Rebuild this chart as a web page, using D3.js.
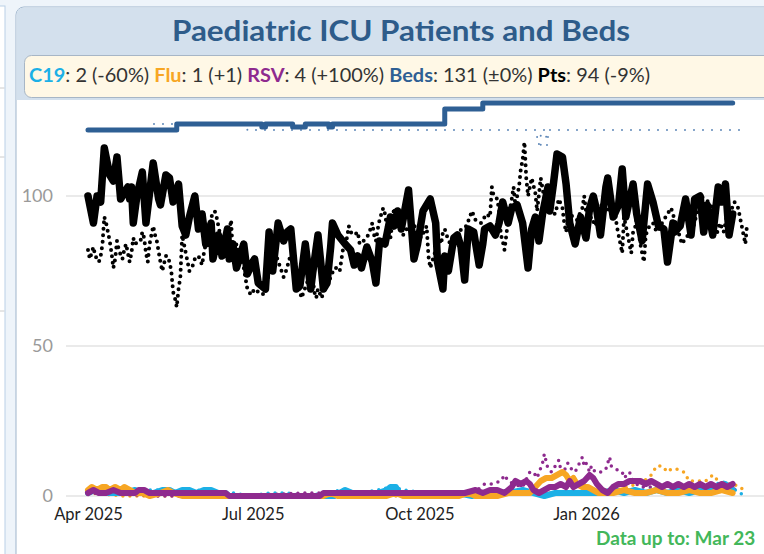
<!DOCTYPE html>
<html>
<head>
<meta charset="utf-8">
<script src="https://cdn.jsdelivr.net/npm/d3@7"></script>
<style>
body { margin: 0; background: #ffffff; }
svg { display: block; font-family: Lato, "Open Sans", sans-serif; }
</style>
</head>
<body>
<div id="chart"></div>
<script>
// sizes
const width = 764, height = 554;
const startDate = new Date(2025, 3, 1);

// series: [days since 1 Apr 2025, value]
const patients = [[0,100],[3,91],[5,100],[7,98],[9,116],[12,107],[14,105],[16,113],[18,99],[20,101],[22,103],[23,99],[24,103],[25,91],[27,100],[30,108],[32,91],[34,101],[36,111],[39,99],[40,97],[43,107],[45,106],[47,98],[50,104],[52,90],[54,87],[56,93],[59,100],[61,89],[63,94],[65,84],[66,87],[68,91],[69,79],[72,87],[74,80],[77,89],[78,79],[80,84],[82,76],[86,84],[88,74],[91,78],[92,79],[94,71],[98,69],[100,88],[102,75],[105,91],[108,85],[110,88],[112,89],[115,69],[117,70],[120,84],[123,69],[124,74],[127,87],[130,69],[132,71],[134,83],[135,91],[138,87],[142,84],[145,82],[147,77],[149,80],[151,76],[154,83],[157,78],[159,71],[161,85],[164,84],[167,93],[169,90],[171,95],[173,89],[177,102],[180,79],[182,84],[185,95],[189,99],[192,91],[193,78],[196,69],[197,80],[199,75],[202,86],[204,87],[206,83],[208,72],[210,89],[213,88],[216,77],[218,84],[219,89],[222,90],[225,87],[227,91],[229,98],[232,91],[234,96],[237,97],[240,91],[243,76],[245,89],[247,93],[249,85],[251,94],[254,103],[255,95],[257,104],[259,114],[262,113],[264,104],[266,91],[269,84],[272,93],[275,86],[277,96],[279,100],[281,95],[283,87],[286,103],[287,106],[290,93],[293,97],[295,109],[297,93],[301,104],[303,94],[306,85],[309,104],[312,98],[315,90],[318,89],[320,78],[323,91],[324,88],[327,90],[330,99],[333,87],[335,99],[338,100],[340,88],[342,97],[345,87],[348,103],[350,98],[352,104],[354,87],[356,94]];
const patientsLastYear = [[0,82],[1,79],[3,83],[4,80],[6,78],[7,80],[8,84],[9,93],[10,91],[11,88],[12,85],[13,81],[14,76],[15,79],[16,85],[17,82],[19,79],[20,82],[21,84],[23,78],[24,81],[25,86],[26,84],[28,85],[29,85],[30,88],[31,86],[32,81],[33,78],[34,84],[35,87],[36,90],[37,87],[38,85],[40,78],[41,75],[43,80],[44,80],[45,78],[46,75],[47,68],[48,66],[49,63],[50,69],[51,73],[52,87],[53,84],[55,78],[56,75],[58,77],[59,79],[61,80],[63,77],[64,81],[65,84],[67,88],[68,93],[70,95],[71,93],[72,90],[74,84],[75,80],[77,84],[79,92],[80,80],[82,84],[86,76],[88,69],[90,67],[92,69],[94,68],[96,68],[97,67],[98,71],[101,75],[102,78],[104,80],[108,73],[110,76],[111,79],[114,80],[115,75],[116,70],[118,66],[119,68],[121,71],[122,76],[123,78],[125,68],[126,66],[127,69],[129,66],[130,68],[132,70],[134,73],[136,76],[138,76],[139,75],[140,79],[141,83],[143,86],[144,90],[145,88],[147,87],[149,88],[150,84],[152,85],[154,86],[156,89],[157,91],[158,87],[159,85],[160,89],[161,92],[163,96],[164,94],[165,90],[167,86],[169,96],[170,93],[174,87],[176,89],[180,91],[181,88],[184,86],[187,90],[188,80],[189,76],[191,80],[194,86],[195,84],[196,88],[197,89],[198,87],[200,84],[203,83],[206,89],[209,90],[212,95],[214,92],[217,91],[220,94],[222,93],[223,103],[224,100],[226,99],[227,95],[228,87],[229,85],[230,82],[232,92],[234,99],[235,103],[236,97],[238,103],[239,109],[240,112],[241,118],[242,106],[243,100],[244,103],[245,106],[247,101],[248,95],[250,106],[252,99],[255,95],[258,94],[260,99],[262,96],[263,91],[264,88],[265,92],[266,94],[270,92],[273,96],[274,100],[275,95],[276,91],[278,93],[280,90],[282,93],[284,98],[288,95],[291,95],[292,90],[293,87],[294,84],[295,81],[296,93],[297,90],[298,87],[299,84],[300,81],[301,88],[302,89],[303,93],[305,84],[306,81],[307,78],[308,87],[310,90],[312,91],[314,88],[318,92],[322,96],[323,94],[326,88],[328,84],[330,86],[333,88],[335,91],[338,100],[341,99],[344,97],[346,94],[347,87],[349,91],[351,88],[353,94],[355,95],[357,98],[359,96],[360,93],[361,90],[362,87],[363,84],[364,91]];
const beds = [[0,122],[49,124],[96,123],[98,124],[113,123],[120,124],[133,123],[135,124],[197,129],[218,131],[356,131]];
const bedsLastYear = [[0,122],[35,124],[88,122],[248,119],[249,116],[250,122],[252,120],[253,117],[254,122],[363,122]];
const covid = [[0,1],[4,2],[8,1],[14,1],[20,1],[26,2],[30,1],[36,1],[41,2],[45,2],[48,1],[52,2],[56,2],[60,1],[64,2],[68,2],[72,1],[76,1],[78,0],[136,0],[139,1],[142,2],[146,1],[152,1],[156,0],[160,1],[165,2],[167,3],[170,3],[172,1],[178,1],[184,1],[190,0],[196,1],[204,1],[212,0],[220,1],[226,1],[232,1],[240,2],[246,1],[252,0],[258,1],[266,1],[272,1],[278,1],[284,1],[290,2],[296,1],[302,2],[308,1],[314,2],[320,1],[326,2],[332,1],[338,2],[344,2],[348,3],[352,4],[354,3],[356,2]];
const flu = [[0,2],[2,3],[5,2],[8,3],[10,3],[12,2],[15,3],[18,2],[20,3],[23,2],[26,1],[30,1],[34,0],[40,1],[44,2],[47,1],[52,0],[130,0],[134,1],[138,0],[165,0],[170,1],[174,0],[205,0],[210,1],[214,0],[226,0],[232,1],[238,1],[244,1],[247,3],[250,5],[253,6],[256,6],[259,7],[262,8],[264,7],[266,5],[268,6],[270,4],[273,3],[276,3],[279,2],[282,1],[285,1],[290,1],[296,2],[302,1],[308,1],[314,2],[320,1],[326,1],[332,2],[338,1],[344,1],[350,2],[356,1]];
const rsv = [[0,1],[3,2],[6,1],[10,1],[14,2],[18,1],[22,1],[26,1],[28,2],[31,2],[34,1],[40,1],[50,1],[60,1],[70,1],[76,1],[78,0],[128,0],[130,1],[140,1],[150,1],[160,1],[170,1],[180,1],[190,1],[200,1],[208,1],[214,2],[218,1],[222,2],[226,2],[230,1],[234,3],[236,5],[239,4],[242,5],[244,4],[246,2],[249,1],[252,2],[255,3],[258,3],[261,4],[264,3],[266,5],[268,3],[271,4],[274,5],[277,7],[279,6],[281,4],[284,2],[287,1],[290,3],[293,4],[296,4],[299,5],[302,5],[305,5],[308,4],[311,5],[314,4],[317,3],[320,4],[323,3],[326,4],[329,3],[332,4],[335,3],[338,4],[341,3],[344,4],[347,3],[350,4],[353,3],[356,4]];
const covidLastYear = [[0,1],[10,2],[20,1],[30,2],[40,2],[50,1],[60,2],[70,1],[80,1],[90,0],[100,1],[110,1],[120,0],[130,1],[140,2],[150,1],[160,2],[168,3],[175,2],[185,1],[195,1],[205,1],[215,1],[225,2],[235,1],[245,1],[255,1],[265,1],[275,1],[285,2],[295,1],[305,2],[315,2],[325,1],[335,2],[345,3],[350,5],[355,3],[360,1],[363,0]];
const fluLastYear = [[0,1],[20,0],[60,0],[120,0],[180,0],[220,1],[240,1],[260,1],[275,1],[285,2],[292,2],[298,3],[303,4],[307,5],[311,7],[314,10],[317,10],[320,8],[322,9],[325,9],[329,8],[332,5],[334,5],[338,5],[341,5],[345,7],[348,5],[352,4],[356,4],[360,3],[362,2]];
const rsvLastYear = [[0,1],[40,0],[80,0],[120,1],[160,1],[200,1],[210,1],[215,2],[219,4],[223,4],[228,5],[230,7],[232,5],[235,4],[240,3],[244,8],[246,8],[248,6],[251,11],[252,14],[254,9],[256,8],[260,12],[261,9],[264,9],[265,11],[267,9],[269,8],[273,13],[274,10],[275,11],[277,8],[278,10],[280,8],[284,8],[286,9],[287,11],[288,13],[289,10],[291,9],[295,8],[296,6],[299,8],[301,5],[305,3],[310,3],[320,3],[330,3],[340,3],[350,3],[360,2]];

// legend + axes text
const legendNames = ["C19", "Flu", "RSV", "Beds", "Pts"];
const legendValues = ["2 (-60%)", "1 (+1)", "4 (+100%)", "131 (±0%)", "94 (-9%)"];
const legendColors = ["#1cb0e6", "#f7a623", "#8e2a8e", "#2e5f94", "#000000"];
const xTicks = [new Date(2025, 3, 1), new Date(2025, 6, 1), new Date(2025, 9, 1), new Date(2026, 0, 1)];
const yTicks = [0, 50, 100];

const svg = d3.select("#chart").append("svg").attr("width", width).attr("height", height);

// panel background
svg.append("rect").attr("width", width).attr("height", height).attr("fill", "#eef4fa");
svg.append("rect").attr("x", -10).attr("y", 6).attr("width", 15).attr("height", 600).attr("fill", "#fff").attr("stroke", "#b9cfe6");
svg.append("rect").attr("x", 16).attr("y", 7).attr("width", 800).attr("height", 600).attr("rx", 8)
    .attr("fill", "#ffffff").attr("stroke", "#9fb5cc");
svg.append("path").attr("d", "M16.5,100 V15 Q16.5,7.5 24,7.5 H780 V100 Z").attr("fill", "#d3e0ed");
[88, 157, 311].forEach(yy => svg.append("line").attr("x1", 0).attr("x2", 4.5).attr("y1", yy).attr("y2", yy).attr("stroke", "#ccc"));

svg.append("text").attr("x", 401).attr("y", 41).attr("text-anchor", "middle")
    .attr("font-size", 29).attr("font-weight", 700).attr("fill", "#2e5c8a")
    .attr("textLength", 458).attr("lengthAdjust", "spacingAndGlyphs")
    .text("Paediatric ICU Patients and Beds");

// legend box
svg.append("rect").attr("x", 24.5).attr("y", 55.5).attr("width", 800).attr("height", 42).attr("rx", 7)
    .attr("fill", "#fff8e6").attr("stroke", "#a7b6c6");
const legendText = svg.append("text").attr("x", 29).attr("y", 82).attr("font-size", 18.5).attr("fill", "#333")
    .attr("textLength", 621).attr("lengthAdjust", "spacingAndGlyphs");
legendNames.forEach((n, i) => {
  legendText.append("tspan").attr("font-weight", 700).attr("fill", legendColors[i]).text(n);
  legendText.append("tspan").text(": " + legendValues[i] + (i < legendNames.length - 1 ? " " : ""));
});

// scales
const x = d3.scaleTime().domain([xTicks[0], xTicks[3]]).range([88, 586]);
const y = d3.scaleLinear().domain([0, 100]).range([496, 196]);

// grid
svg.append("g").selectAll("line").data(yTicks).join("line")
    .attr("x1", 66).attr("x2", width).attr("y1", d => y(d)).attr("y2", d => y(d))
    .attr("stroke", "#e3e3e3").attr("stroke-width", 1.5);

const yAxis = svg.append("g").attr("transform", "translate(53,0)")
    .call(d3.axisLeft(y).tickValues(yTicks).tickSize(0).tickPadding(0));
yAxis.select(".domain").remove();
yAxis.selectAll("text").attr("font-size", 18).attr("fill", "#9a9a9a").attr("font-family", "Lato, sans-serif");

const xAxis = svg.append("g").attr("transform", "translate(0,505)")
    .call(d3.axisBottom(x).tickValues(xTicks).tickFormat(d3.timeFormat("%b %Y")).tickSize(0).tickPadding(0));
xAxis.select(".domain").remove();
xAxis.selectAll("text").attr("font-size", 16.5).attr("fill", "#222").attr("dy", "0.9em").attr("font-family", "Lato, sans-serif");

// lines
const line = d3.line()
    .x(d => x(d3.timeDay.offset(startDate, d[0])))
    .y(d => y(d[1]));
const stepLine = d3.line()
    .x(d => x(d3.timeDay.offset(startDate, d[0])))
    .y(d => y(d[1]))
    .curve(d3.curveStepAfter);

const dotted = [
  {data: covidLastYear, color: legendColors[0], w: 3.5, gap: 7, gen: line},
  {data: fluLastYear, color: legendColors[1], w: 3.5, gap: 7, gen: line},
  {data: rsvLastYear, color: legendColors[2], w: 3.5, gap: 7, gen: line},
  {data: bedsLastYear, color: "#5f88b8", w: 2, gap: 9, gen: stepLine},
  {data: patientsLastYear, color: "#000", w: 4, gap: 6.5, gen: line}
];
const solid = [
  {data: covid, color: legendColors[0], w: 6, gen: line},
  {data: flu, color: legendColors[1], w: 6, gen: line},
  {data: rsv, color: legendColors[2], w: 6, gen: line},
  {data: beds, color: legendColors[3], w: 5, gen: stepLine},
  {data: patients, color: "#000", w: 7.5, gen: line}
];

svg.append("g").selectAll("path").data(dotted).join("path")
    .attr("d", s => s.gen(s.data))
    .attr("fill", "none").attr("stroke", s => s.color).attr("stroke-width", s => s.w)
    .attr("stroke-linecap", "round").attr("stroke-dasharray", s => "0 " + s.gap);

svg.append("g").selectAll("path").data(solid).join("path")
    .attr("d", s => s.gen(s.data))
    .attr("fill", "none").attr("stroke", s => s.color).attr("stroke-width", s => s.w)
    .attr("stroke-linecap", "round").attr("stroke-linejoin", "round");

svg.append("text").attr("x", 596).attr("y", 545).attr("font-size", 19).attr("font-weight", 700)
    .attr("fill", "#43b75a").text("Data up to: Mar 23");
</script>
</body>
</html>
